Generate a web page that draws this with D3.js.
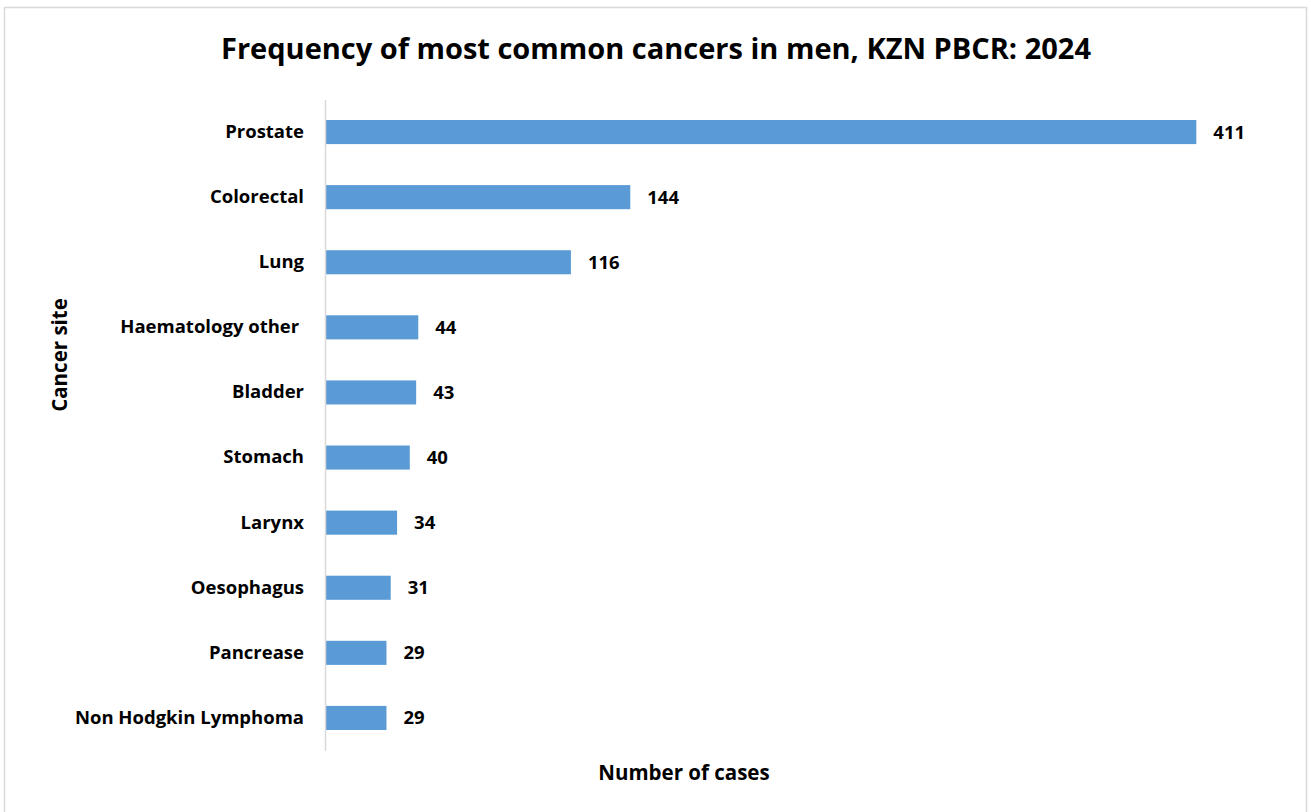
<!DOCTYPE html>
<html><head><meta charset="utf-8">
<script src="https://cdn.jsdelivr.net/npm/d3@7"></script>
<style>
html,body{margin:0;padding:0;background:#fff;}
text{font-family:"Open Sans", sans-serif;font-weight:bold;fill:#000;}
</style></head>
<body><svg id="c" width="1311" height="812"></svg>
<script>
const categories = ["Prostate","Colorectal","Lung","Haematology other ","Bladder","Stomach","Larynx","Oesophagus","Pancrease","Non Hodgkin Lymphoma"];
const values = [411,144,116,44,43,40,34,31,29,29];
const titleText = "Frequency of most common cancers in men, KZN PBCR: 2024";
const xTitle = "Number of cases";
const yTitle = "Cancer site";

const svg = d3.select("#c");
svg.append("rect").attr("x",4.5).attr("y",7.5).attr("width",1302).attr("height",820)
  .attr("fill","#fff").attr("stroke","#d9d9d9").attr("stroke-width",1.5);

const x = d3.scaleLinear().domain([0,450]).range([325,1279]);
const y = d3.scaleBand().domain(categories).range([99.5,750.5]).paddingInner(0.63).paddingOuter(0.315);

svg.append("text").attr("x",656).attr("y",59).attr("text-anchor","middle")
  .style("font-size","29px").text(titleText);

svg.selectAll("rect.bar").data(values).join("rect").attr("class","bar")
  .attr("x",x(0)).attr("y",(d,i)=>y(categories[i]))
  .attr("width",d=>x(d)-x(0)).attr("height",y.bandwidth()).attr("fill","#5b9bd5");

const yAxis = d3.axisLeft(y).tickSize(0).tickPadding(21);
const gy = svg.append("g").attr("transform",`translate(${x(0)},0)`).call(yAxis);
gy.select(".domain").attr("stroke","#d9d9d9").attr("stroke-width",1.5);
gy.selectAll("text").style("font-size","18.5px").style("font-family","'Open Sans', sans-serif").style("font-weight","bold").attr("fill","#000").style("white-space","pre");

svg.selectAll("text.val").data(values).join("text").attr("class","val")
  .attr("x",d=>x(d)+17).attr("y",(d,i)=>y(categories[i])+y.bandwidth()/2).attr("dy","0.35em")
  .style("font-size","18.5px").text(d=>d);

svg.append("text").attr("x",684).attr("y",780).attr("text-anchor","middle").style("font-size","20.5px").text(xTitle);
svg.append("text").attr("transform","translate(67,355) rotate(-90)").attr("text-anchor","middle").style("font-size","20.5px").text(yTitle);
</script></body></html>
